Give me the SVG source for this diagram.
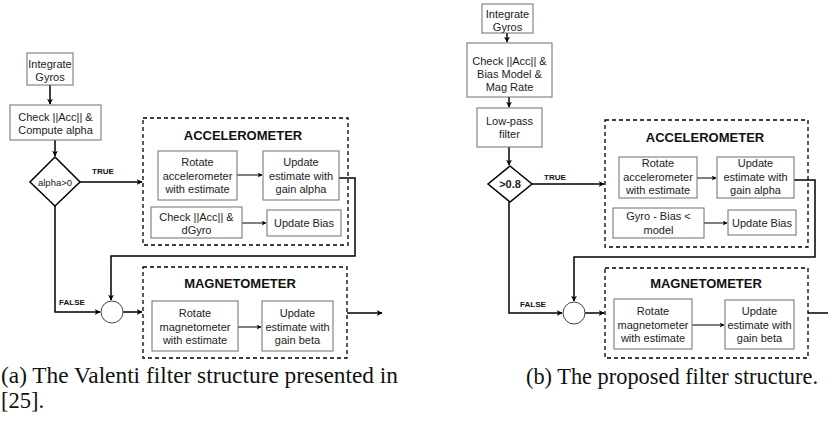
<svg xmlns="http://www.w3.org/2000/svg" width="828" height="423" viewBox="0 0 828 423">
<defs>
<marker id="ah" viewBox="0 0 10 10" refX="9" refY="5" markerWidth="6" markerHeight="6" markerUnits="userSpaceOnUse" orient="auto"><path d="M0,0 L10,5 L0,10 L3,5 Z" fill="#000"/></marker>
<marker id="ahs" viewBox="0 0 10 10" refX="9" refY="5" markerWidth="5" markerHeight="5" markerUnits="userSpaceOnUse" orient="auto"><path d="M0,0 L10,5 L0,10 L3,5 Z" fill="#000"/></marker>
<style>
.box{fill:#fff;stroke:#6e6e6e;stroke-width:1}
.dash{fill:none;stroke:#000;stroke-width:1.3;stroke-dasharray:4 3}
.dia{fill:#fff;stroke:#000;stroke-width:1.5}
.circ{fill:#fff;stroke:#444;stroke-width:1}
.t{font-family:"Liberation Sans",Arial,sans-serif;font-size:11px;fill:#222;text-anchor:middle}
.h{font-family:"Liberation Sans",Arial,sans-serif;font-size:13px;font-weight:bold;fill:#111;text-anchor:middle}
.lbl{font-family:"Liberation Sans",Arial,sans-serif;font-size:8px;font-weight:bold;fill:#111;text-anchor:middle}
.cap{font-family:"Liberation Serif","Times New Roman",serif;font-size:22.5px;fill:#111}
.c{fill:none;stroke:#000;stroke-width:1.5}
.ci{fill:none;stroke:#000;stroke-width:1}
</style>
</defs>

<g id="connectors">
<!-- left -->
<path class="c" d="M50,85 V104" marker-end="url(#ah)"/>
<path class="c" d="M55,140 V156" marker-end="url(#ah)"/>
<path class="c" d="M80,182 H142" marker-end="url(#ah)"/>
<path class="ci" d="M237,175 H262" marker-end="url(#ahs)"/>
<path class="ci" d="M242,223 H266" marker-end="url(#ahs)"/>
<path class="c" d="M339,178 H355 V256 H111 V300" marker-end="url(#ah)"/>
<path class="c" d="M55,206 V312 H100" marker-end="url(#ah)"/>
<path class="c" d="M123,312 H142" marker-end="url(#ah)"/>
<path class="ci" d="M238,327 H261" marker-end="url(#ahs)"/>
<path class="c" d="M347,313 H382" marker-end="url(#ah)"/>
<!-- right -->
<path class="c" d="M507,33 V42" marker-end="url(#ah)"/>
<path class="c" d="M509,97 V107" marker-end="url(#ah)"/>
<path class="c" d="M509,147 V165" marker-end="url(#ah)"/>
<path class="c" d="M532,184 H604" marker-end="url(#ah)"/>
<path class="ci" d="M697,178 H716" marker-end="url(#ahs)"/>
<path class="ci" d="M704,223 H727" marker-end="url(#ahs)"/>
<path class="c" d="M794,180 H815 V257 H574 V301" marker-end="url(#ah)"/>
<path class="c" d="M509,202 V313 H562" marker-end="url(#ah)"/>
<path class="c" d="M585,313 H604" marker-end="url(#ah)"/>
<path class="ci" d="M692,325 H724" marker-end="url(#ahs)"/>
<path class="c" d="M808,313 H828"/>
<text class="lbl" x="103" y="174">TRUE</text>
<text class="lbl" x="72" y="305">FALSE</text>
<text class="lbl" x="555" y="180">TRUE</text>
<text class="lbl" x="533" y="307">FALSE</text>
</g>

<!-- Diagram (a) -->
<g id="a-integrate"><rect class="box" x="27" y="53" width="46" height="32"/><text class="t" x="50" y="68">Integrate</text><text class="t" x="50" y="81">Gyros</text></g>
<g id="a-check"><rect class="box" x="10" y="105" width="91" height="35"/><text class="t" x="55.5" y="121">Check ||Acc|| &amp;</text><text class="t" x="55.5" y="134">Compute alpha</text></g>
<g id="a-decision"><polygon class="dia" points="55,157 80,182 55,206 30,182"/><text class="t" x="55" y="185.5" style="font-size:9.5px">alpha&gt;0</text></g>
<g id="a-acc"><rect class="dash" x="143" y="118" width="205" height="127"/><text class="h" x="243" y="140">ACCELEROMETER</text></g>
<g id="a-rotate-acc"><rect class="box" x="158" y="151" width="79" height="49"/><text class="t" x="197.5" y="166">Rotate</text><text class="t" x="197.5" y="179.5">accelerometer</text><text class="t" x="197.5" y="193">with estimate</text></g>
<g id="a-update-alpha"><rect class="box" x="263" y="151" width="76" height="49"/><text class="t" x="301" y="166">Update</text><text class="t" x="301" y="179.5">estimate with</text><text class="t" x="301" y="193">gain alpha</text></g>
<g id="a-check-dgyro"><rect class="box" x="151" y="207" width="91" height="31"/><text class="t" x="196.5" y="221">Check ||Acc|| &amp;</text><text class="t" x="196.5" y="234">dGyro</text></g>
<g id="a-bias"><rect class="box" x="267" y="210" width="74" height="26"/><text class="t" x="304" y="227">Update Bias</text></g>
<g id="a-sum"><circle class="circ" cx="112" cy="312" r="11"/></g>
<g id="a-mag"><rect class="dash" x="143" y="267" width="204" height="91"/><text class="h" x="240" y="288">MAGNETOMETER</text></g>
<g id="a-rotate-mag"><rect class="box" x="152" y="301" width="86" height="50"/><text class="t" x="195" y="317">Rotate</text><text class="t" x="195" y="330.5">magnetometer</text><text class="t" x="195" y="344">with estimate</text></g>
<g id="a-update-beta"><rect class="box" x="262" y="301" width="71" height="50"/><text class="t" x="297.5" y="317">Update</text><text class="t" x="297.5" y="330.5">estimate with</text><text class="t" x="297.5" y="344">gain beta</text></g>

<!-- Diagram (b) -->
<g id="b-integrate"><rect class="box" x="482" y="4" width="51" height="29"/><text class="t" x="507.5" y="18">Integrate</text><text class="t" x="507.5" y="30.5">Gyros</text></g>
<g id="b-check"><rect class="box" x="467" y="43" width="85" height="54"/><text class="t" x="509.5" y="65">Check ||Acc|| &amp;</text><text class="t" x="509.5" y="78">Bias Model &amp;</text><text class="t" x="509.5" y="91">Mag Rate</text></g>
<g id="b-lowpass"><rect class="box" x="477" y="108" width="65" height="39"/><text class="t" x="509.5" y="125">Low-pass</text><text class="t" x="509.5" y="138">filter</text></g>
<g id="b-decision"><polygon class="dia" points="510,166 532,184 510,202 488,184"/><text class="t" x="510" y="188" style="font-size:11px;font-weight:bold">&gt;0.8</text></g>
<g id="b-acc"><rect class="dash" x="605" y="120" width="203" height="127"/><text class="h" x="705" y="142">ACCELEROMETER</text></g>
<g id="b-rotate-acc"><rect class="box" x="619" y="157" width="78" height="41"/><text class="t" x="658" y="167">Rotate</text><text class="t" x="658" y="180.5">accelerometer</text><text class="t" x="658" y="194">with estimate</text></g>
<g id="b-update-alpha"><rect class="box" x="717" y="157" width="77" height="41"/><text class="t" x="755.5" y="167">Update</text><text class="t" x="755.5" y="180.5">estimate with</text><text class="t" x="755.5" y="194">gain alpha</text></g>
<g id="b-gyro-bias"><rect class="box" x="613" y="208" width="91" height="30"/><text class="t" x="658.5" y="220">Gyro - Bias &lt;</text><text class="t" x="658.5" y="234">model</text></g>
<g id="b-bias"><rect class="box" x="728" y="210" width="68" height="25"/><text class="t" x="762" y="227">Update Bias</text></g>
<g id="b-sum"><circle class="circ" cx="574" cy="313" r="11"/></g>
<g id="b-mag"><rect class="dash" x="605" y="268" width="203" height="90"/><text class="h" x="706" y="288">MAGNETOMETER</text></g>
<g id="b-rotate-mag"><rect class="box" x="614" y="299" width="78" height="50"/><text class="t" x="653" y="315">Rotate</text><text class="t" x="653" y="328.5">magnetometer</text><text class="t" x="653" y="342">with estimate</text></g>
<g id="b-update-beta"><rect class="box" x="725" y="300" width="69" height="49"/><text class="t" x="759.5" y="315">Update</text><text class="t" x="759.5" y="328.5">estimate with</text><text class="t" x="759.5" y="342">gain beta</text></g>

<g id="captions">
<text class="cap" x="1" y="383" textLength="397" lengthAdjust="spacingAndGlyphs">(a) The Valenti filter structure presented in</text>
<text class="cap" x="1" y="408">[25].</text>
<text class="cap" x="526" y="384" textLength="292" lengthAdjust="spacingAndGlyphs">(b) The proposed filter structure.</text>
</g>
</svg>
